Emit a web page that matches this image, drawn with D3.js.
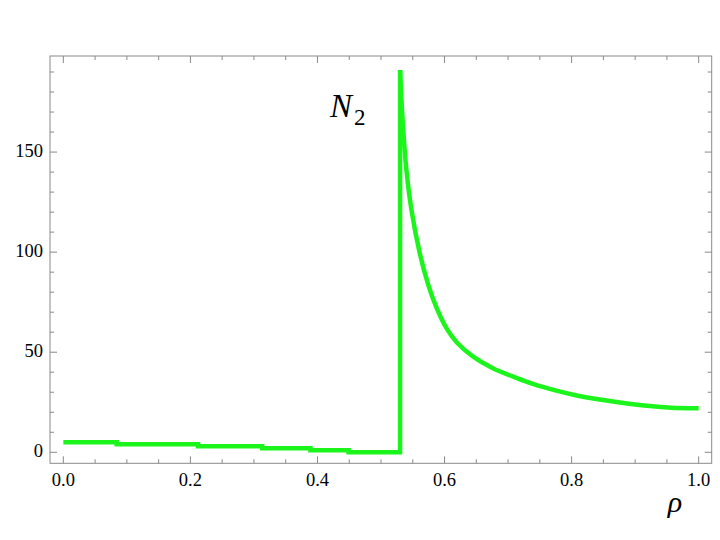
<!DOCTYPE html>
<html>
<head>
<meta charset="utf-8">
<script src="https://cdn.jsdelivr.net/npm/d3@7"></script>
<style>
  body { margin: 0; background: #fff; }
</style>
</head>
<body>
<svg width="720" height="540" font-family="'Liberation Serif', 'Times New Roman', Times, serif"></svg>
<script>
// low-density branch: integer steps of N2
const stepRho = [0, 0.084, 0.212, 0.313, 0.389, 0.449, 0.530];
const stepN   = [5, 4, 3, 2, 1, 0, 191];

// high-density branch
const curveRho = [0.530, 0.534, 0.540, 0.548, 0.561, 0.574, 0.587, 0.603, 0.619, 0.645,
                  0.676, 0.713, 0.739, 0.776, 0.808, 0.839, 0.876, 0.923, 0.957, 1.0];
const curveN   = [191, 166, 141, 121, 99.5, 84, 72.5, 62, 55, 47.8,
                  42, 37.2, 34.2, 30.8, 28.4, 26.6, 24.9, 23.1, 22.3, 22];

const xTicks = [0, 0.2, 0.4, 0.6, 0.8, 1.0];
const yTicks = [0, 50, 100, 150];

const svg = d3.select("svg");
const margin = {left: 50, right: 8.3, top: 56, bottom: 76.7};
const W = 720, H = 540;

const x = d3.scaleLinear().domain([-0.021, 1.0205]).range([margin.left, W - margin.right]);
const y = d3.scaleLinear().domain([-5.5, 198]).range([H - margin.bottom, margin.top]);

const frameColor = "#8a8a8a";
const green = "#1cf51c";

const xMinor = d3.range(0, 1.0001, 0.05).filter(v => !xTicks.some(t => Math.abs(t - v) < 1e-6));
const yMinor = d3.range(0, 191, 10).filter(v => v % 50 !== 0);

// frame
svg.append("rect")
  .attr("x", x.range()[0]).attr("y", y.range()[1])
  .attr("width", x.range()[1] - x.range()[0])
  .attr("height", y.range()[0] - y.range()[1])
  .attr("fill", "none").attr("stroke", frameColor).attr("stroke-width", 1);

// ticks, all pointing inward
const tickG = svg.append("g").attr("stroke", frameColor).attr("stroke-width", 1);
const addX = (vals, len) => vals.forEach(v => {
  tickG.append("line").attr("x1", x(v)).attr("x2", x(v))
    .attr("y1", y.range()[0]).attr("y2", y.range()[0] - len);
  tickG.append("line").attr("x1", x(v)).attr("x2", x(v))
    .attr("y1", y.range()[1]).attr("y2", y.range()[1] + len);
});
const addY = (vals, len) => vals.forEach(v => {
  tickG.append("line").attr("y1", y(v)).attr("y2", y(v))
    .attr("x1", x.range()[0]).attr("x2", x.range()[0] + len);
  tickG.append("line").attr("y1", y(v)).attr("y2", y(v))
    .attr("x1", x.range()[1]).attr("x2", x.range()[1] - len);
});
addX(xTicks, 7); addX(xMinor, 4);
addY(yTicks, 7); addY(yMinor, 4);

// tick labels
svg.append("g").selectAll("text").data(xTicks).join("text")
  .attr("x", d => x(d)).attr("y", 486)
  .attr("text-anchor", "middle").attr("font-size", 18.5)
  .text(d3.format(".1f"));

svg.append("g").selectAll("text").data(yTicks).join("text")
  .attr("x", 43).attr("y", d => y(d) + 4.5)
  .attr("text-anchor", "end").attr("font-size", 18.5)
  .text(d => d);

// curves
const steps = d3.line().curve(d3.curveStepAfter)
  .x((d, i) => x(stepRho[i])).y(d => y(d));
svg.append("path").datum(stepN)
  .attr("d", steps)
  .attr("fill", "none").attr("stroke", green).attr("stroke-width", 4.5);

const smooth = d3.line().curve(d3.curveCatmullRom.alpha(0.5))
  .x((d, i) => x(curveRho[i])).y(d => y(d));
svg.append("path").datum(curveN)
  .attr("d", smooth)
  .attr("fill", "none").attr("stroke", green).attr("stroke-width", 4.5);

// labels
const nLab = svg.append("text").attr("x", 330).attr("y", 117).attr("font-size", 33);
nLab.append("tspan").attr("font-style", "italic").text("N");
nLab.append("tspan").attr("font-size", 23).attr("dy", 8).attr("dx", 2).text("2");

svg.append("text").attr("x", 675).attr("y", 512)
  .attr("text-anchor", "middle").attr("font-size", 30).attr("font-style", "italic")
  .text("ρ");
</script>
</body>
</html>
